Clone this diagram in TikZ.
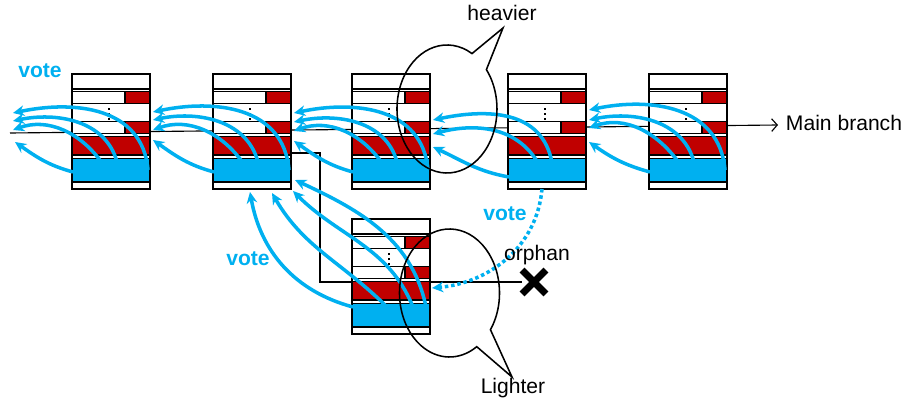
\documentclass[tikz,border=0pt]{standalone}
\usepackage{fontspec}
\setmainfont{Liberation Sans}
\usetikzlibrary{arrows.meta,shapes.misc}

\definecolor{voteblue}{RGB}{0,176,240}
\definecolor{blockred}{RGB}{192,0,0}

\tikzset{
  row/.style={draw=black,line width=1.1pt},
  vote/.style={voteblue,line width=2.5pt,-{Stealth[length=8pt,width=7.5pt]}},
  votetext/.style={text=voteblue,font=\bfseries\fontsize{15}{18}\selectfont},
  plain/.style={font=\fontsize{15}{18}\selectfont},
  thinline/.style={line width=0.8pt},
  bubble/.style={line width=1.1pt},
}

\begin{document}
\begin{tikzpicture}[x=0.025cm,y=0.025cm]

\useasboundingbox (0,0) rectangle (908,402);

\coordinate (MB) at (10,269);
\coordinate (MBe) at (778,277);
\coordinate (fk) at (292,249);
\coordinate (fkc) at (320,249);

\node[draw,cross out,line width=5pt,minimum size=0.42cm] (X) at (534,120) {};

\draw[thinline,-{Straight Barb[length=4pt,width=9pt]}] (MB) -- (MBe);
\draw[thinline] (fk) -- (fkc) |- (X);

% blocks
\foreach \bx/\by/\bn in {72/328/B1,213/328/B2,352/328/B3,508/328/B4,649/328/B5,352/183/F}
{
  \coordinate (\bn) at (\bx,\by);
  \begin{scope}[shift={(\bx,\by)}]
    \fill[white] (0,0) rectangle (78,-115);
    \draw[row] (0,0) rectangle (78,-15);
    \draw[row] (0,-15) rectangle (78,-17.5);
    \draw[row,fill=blockred] (53,-17.5) rectangle (78,-29.5);
    \draw[row] (0,-17.5) rectangle (78,-29.5);
    \draw[row] (0,-29.5) rectangle (78,-47.5);
    \draw[row,fill=blockred] (53,-47.5) rectangle (78,-59.5);
    \draw[row] (0,-47.5) rectangle (78,-59.5);
    \draw[row] (0,-59.5) rectangle (78,-62.5);
    \draw[row,fill=blockred] (0,-62.5) rectangle (78,-81);
    \draw[row] (0,-81) rectangle (78,-84.5);
    \draw[row,fill=voteblue] (0,-84.5) rectangle (78,-108);
    \draw[row] (0,0) rectangle (78,-115);
    \foreach \d in {34,39,44}
    {
      \fill (36,-\d) rectangle (38.4,-\d-2.4);
    }
  \end{scope}
}

% vote targets
\coordinate (G1) at (13,289);
\coordinate (G2) at (13,281);
\coordinate (G3) at (13,272);
\coordinate (G4) at (15,260);

\coordinate (T11) at (153,290);
\coordinate (T12) at (153,282);
\coordinate (T13) at (153,272);
\coordinate (T14) at (153,262);

\coordinate (T21) at (294,289);
\coordinate (T22) at (294,280);
\coordinate (T23) at (294,271);
\coordinate (T24) at (294,261);

\coordinate (T31) at (433,282);
\coordinate (T32) at (433,268);
\coordinate (T33) at (433,255);

\coordinate (T41) at (589,292);
\coordinate (T42) at (589,282);
\coordinate (T43) at (589,274);
\coordinate (T44) at (589,260);

\coordinate (FT1) at (250,210);
\coordinate (FT2) at (272,209);
\coordinate (FT3) at (293,211);
\coordinate (FT4) at (295,222);

% vote sources
\coordinate (S11) at (148,232);
\coordinate (S12) at (117,240);
\coordinate (S13) at (102,239);
\coordinate (S14) at (73,230);

\coordinate (S21) at (289,232);
\coordinate (S22) at (258,240);
\coordinate (S23) at (243,239);
\coordinate (S24) at (214,230);

\coordinate (S31) at (428,232);
\coordinate (S32) at (397,240);
\coordinate (S33) at (382,239);
\coordinate (S34) at (353,230);

\coordinate (S41) at (552,239);
\coordinate (S42) at (538,239);
\coordinate (S43) at (509,225);
\coordinate (S45) at (542,213);

\coordinate (S51) at (725,232);
\coordinate (S52) at (694,240);
\coordinate (S53) at (679,239);
\coordinate (S54) at (650,230);

\coordinate (FS1) at (353,95);
\coordinate (FS2) at (387,95);
\coordinate (FS3) at (413,95);
\coordinate (FS4) at (427,90);
\coordinate (FT5) at (432,114);

\draw[vote] (S11) to[out=95,in=12,looseness=1.1] (G1);
\draw[vote] (S12) to[out=105,in=12] (G2);
\draw[vote] (S13) to[out=125,in=20] (G3);
\draw[vote] (S14) to[out=165,in=-35] (G4);

\draw[vote] (S21) to[out=95,in=12,looseness=1.1] (T11);
\draw[vote] (S22) to[out=105,in=12] (T12);
\draw[vote] (S23) to[out=125,in=20] (T13);
\draw[vote] (S24) to[out=165,in=-35] (T14);

\draw[vote] (S31) to[out=95,in=12,looseness=1.1] (T21);
\draw[vote] (S32) to[out=105,in=12] (T22);
\draw[vote] (S33) to[out=125,in=20] (T23);
\draw[vote] (S34) to[out=165,in=-35] (T24);

\draw[vote] (S41) to[out=100,in=12,looseness=1.1] (T31);
\draw[vote] (S42) to[out=120,in=15] (T32);
\draw[vote] (S43) to[out=170,in=-25] (T33);

\draw[vote] (S51) to[out=95,in=12,looseness=1.1] (T41);
\draw[vote] (S52) to[out=105,in=12] (T42);
\draw[vote] (S53) to[out=125,in=20] (T43);
\draw[vote] (S54) to[out=165,in=-35] (T44);

\draw[vote] (FS1) to[out=165,in=-80] (FT1);
\draw[vote] (FS2) to[out=135,in=-60] (FT2);
\draw[vote] (FS3) to[out=112,in=-45] (FT3);
\draw[vote] (FS4) to[out=100,in=-25] (FT4);

\draw[vote,dotted] (S45) to[out=-95,in=5] (FT5);

% bubbles
\coordinate (HC) at (447,293);
\coordinate (Htip) at (503,374);
\coordinate (LC) at (449.5,109);
\coordinate (Ltip) at (512,25);

\draw[bubble] (HC) ++(60:50 and 64) arc[start angle=60,end angle=398,x radius=50,y radius=64] -- (Htip) -- cycle;
\draw[bubble] (LC) ++(-35:50 and 64) arc[start angle=-35,end angle=303,x radius=50,y radius=64] -- (Ltip) -- cycle;

% labels
\node[plain,anchor=west] (mainbr) at (781,279) {Main branch};
\node[plain] (heavy) at (502,389) {heavier};
\node[plain] (light) at (513,14) {Lighter};
\node[plain] (orphan) at (537,147) {orphan};
\node[votetext] (vote1) at (40,331) {vote};
\node[votetext] (vote2) at (248,143) {vote};
\node[votetext] (vote3) at (505,188) {vote};

\end{tikzpicture}
\end{document}
